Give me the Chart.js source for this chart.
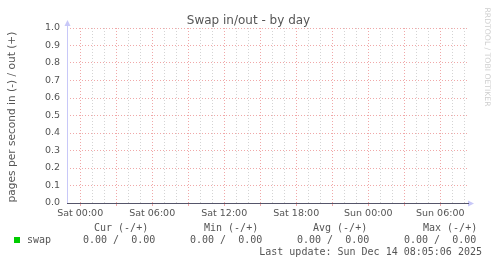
<!DOCTYPE html>
<html>
<head>
<meta charset="utf-8">
<script src="https://cdn.jsdelivr.net/npm/chart.js@4.4.1/dist/chart.umd.min.js"></script>
<style>
  body { margin: 0; background: #fff; }
  #wrap { position: relative; width: 497px; height: 264px; overflow: hidden; font-family: "DejaVu Sans", sans-serif; color: #555; }
  canvas { position: absolute; left: 0; top: 0; }
  .t { position: absolute; white-space: pre; }
  .mono { font-family: "DejaVu Sans Mono", monospace; font-size: 10px; line-height: 12px; }
</style>
</head>
<body>
<div id="wrap">
  <canvas id="swap-chart" width="497" height="264"></canvas>
  <div class="t" style="left:0; top:13px; width:497px; text-align:center; font-size:12px; line-height:14px;">Swap in/out - by day</div>
  <div class="t" style="left:-89px; top:111px; width:200px; text-align:center; font-size:10.6px; line-height:12px; transform:rotate(-90deg);">pages per second in (-) / out (+)</div>
  <div class="t" style="left:427px; top:52px; width:120px; text-align:center; font-size:7.7px; line-height:10px; color:#cfcfcf; transform:rotate(90deg);">RRDTOOL / TOBI OETIKER</div>
  <div id="legend"></div>
</div>
<script>
// hours relative to Sat 00:00 (one sample per hour)
const hours = [-1, 0, 1, 2, 3, 4, 5, 6, 7, 8, 9, 10, 11, 12, 13, 14, 15, 16,
  17, 18, 19, 20, 21, 22, 23, 24, 25, 26, 27, 28, 29, 30, 31, 32];
const swapIn = [0, 0, 0, 0, 0, 0, 0, 0, 0, 0, 0, 0, 0, 0, 0, 0, 0, 0,
  0, 0, 0, 0, 0, 0, 0, 0, 0, 0, 0, 0, 0, 0, 0, 0];
const swapOut = [0, 0, 0, 0, 0, 0, 0, 0, 0, 0, 0, 0, 0, 0, 0, 0, 0, 0,
  0, 0, 0, 0, 0, 0, 0, 0, 0, 0, 0, 0, 0, 0, 0, 0];

const xTickHours = [0, 6, 12, 18, 24, 30];
const xTickLabels = ['Sat 00:00', 'Sat 06:00', 'Sat 12:00', 'Sat 18:00', 'Sun 00:00', 'Sun 06:00'];
const yTicks = [0.0, 0.1, 0.2, 0.3, 0.4, 0.5, 0.6, 0.7, 0.8, 0.9, 1.0];
const lastUpdate = 'Last update: Sun Dec 14 08:05:06 2025';

const red = '#f0a8a8';
const gray = '#d4d4d4';
const font = { family: 'DejaVu Sans', size: 9.5 };

// axis lines + little arrows, drawn over the data like rrdtool does
const axisArrows = {
  id: 'axisArrows',
  afterDraw(chart) {
    const { ctx, chartArea: a } = chart;
    const x0 = Math.round(a.left) + 0.5;
    const y0 = Math.round(a.bottom) + 0.5;
    ctx.save();
    ctx.lineWidth = 1;
    ctx.strokeStyle = '#c8c8f8';
    ctx.fillStyle = '#c8c8f8';
    ctx.beginPath();
    ctx.moveTo(x0, y0);
    ctx.lineTo(x0, a.top - 4);
    ctx.stroke();
    ctx.beginPath();
    ctx.moveTo(x0, a.top - 8);
    ctx.lineTo(x0 - 3, a.top - 2);
    ctx.lineTo(x0 + 3, a.top - 2);
    ctx.closePath();
    ctx.fill();
    ctx.beginPath();
    ctx.moveTo(a.right + 7, y0);
    ctx.lineTo(a.right + 1, y0 - 3);
    ctx.lineTo(a.right + 1, y0 + 3);
    ctx.closePath();
    ctx.fill();
    ctx.strokeStyle = '#55556a';
    ctx.beginPath();
    ctx.moveTo(a.left, y0);
    ctx.lineTo(a.right + 2, y0);
    ctx.stroke();
    ctx.restore();
  }
};

const ctx = document.getElementById('swap-chart');

new Chart(ctx, {
  type: 'line',
  data: {
    labels: hours,
    datasets: [{
      label: 'swap in',
      data: hours.map((h, i) => ({ x: h, y: -swapIn[i] })),
      borderColor: '#00cc00',
      borderWidth: 1,
      pointRadius: 0,
      clip: { left: 0, top: 1, right: 0, bottom: -1 }
    }, {
      label: 'swap',
      data: hours.map((h, i) => ({ x: h, y: swapOut[i] })),
      borderColor: '#00cc00',
      borderWidth: 1,
      pointRadius: 0,
      clip: { left: 0, top: 1, right: 0, bottom: -1 }
    }]
  },
  options: {
    responsive: false,
    animation: false,
    layout: { padding: { left: 0, top: 28, right: 30, bottom: 0 } },
    plugins: { legend: { display: false }, tooltip: { enabled: false } },
    scales: {
      x: {
        type: 'linear',
        min: -1.1,
        max: 32.23,
        afterFit: s => { s.height = 61; },
        afterBuildTicks: s => {
          s.ticks = hours.filter(h => h >= 0).map(h => ({ value: h }));
        },
        grid: {
          color: c => (c.tick && c.tick.value % 3 === 0 ? red : gray),
          tickColor: c => (c.tick && c.tick.value % 3 === 0 ? red : 'rgba(0,0,0,0)'),
          tickLength: 3
        },
        border: { display: false, dash: [1, 2] },
        ticks: {
          autoSkip: false,
          maxRotation: 0,
          padding: 2,
          font: font,
          color: '#555',
          callback: v => {
            const i = xTickHours.indexOf(v);
            return i < 0 ? '' : xTickLabels[i];
          }
        }
      },
      y: {
        min: 0,
        max: 1.0,
        afterFit: s => { s.width = 67; },
        afterBuildTicks: s => { s.ticks = yTicks.map(v => ({ value: v })); },
        grid: { color: red, drawTicks: false },
        border: { display: false, dash: [1, 2] },
        ticks: {
          padding: 7,
          font: font,
          color: '#555',
          callback: v => v.toFixed(1)
        }
      }
    }
  },
  plugins: [axisArrows]
});

// legend block below the plot, values taken from the series
function fmt(a, b) {
  return a.toFixed(2) + ' / ' + b.toFixed(2).padStart(5);
}
const avg = arr => arr.reduce((s, v) => s + v, 0) / arr.length;
const stats = [
  ['Cur (-/+)', 94, 83, fmt(swapIn[swapIn.length - 1], swapOut[swapOut.length - 1])],
  ['Min (-/+)', 204, 190, fmt(Math.min(...swapIn), Math.min(...swapOut))],
  ['Avg (-/+)', 313, 297, fmt(avg(swapIn), avg(swapOut))],
  ['Max (-/+)', 423, 404, fmt(Math.max(...swapIn), Math.max(...swapOut))]
];
let html = '<div style="position:absolute;left:14px;top:237px;width:6px;height:6px;background:#00cc00;"></div>';
html += '<div class="t mono" style="left:27px;top:234px;">swap</div>';
stats.forEach(([head, hx, vx, val]) => {
  html += `<div class="t mono" style="left:${hx}px;top:222px;">${head}</div>`;
  html += `<div class="t mono" style="left:${vx}px;top:234px;">${val}</div>`;
});
html += `<div class="t mono" style="left:0;top:246px;width:482px;text-align:right;">${lastUpdate}</div>`;
document.getElementById('legend').innerHTML = html;
</script>
</body>
</html>
